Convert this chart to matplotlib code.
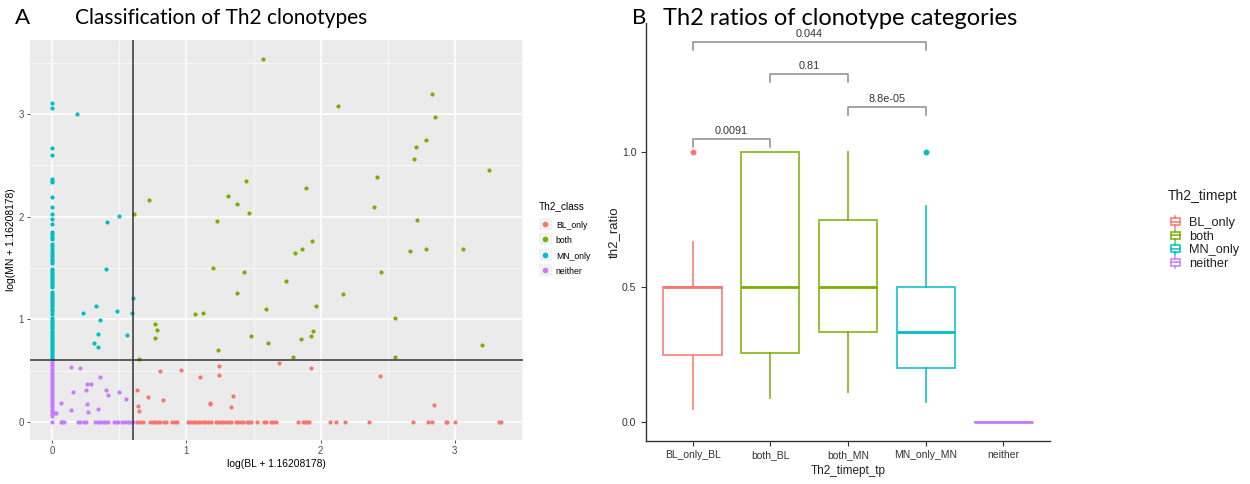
import matplotlib
matplotlib.use("Agg")
import matplotlib.pyplot as plt
from matplotlib.lines import Line2D
from matplotlib.patches import Rectangle
from matplotlib.legend_handler import HandlerBase

plt.rcParams["font.family"] = ["Liberation Sans", "DejaVu Sans"]

# ---- panel A data ----
bl_x = [0.632, 0.642, 0.649, 0.711, 0.803, 0.825, 0.959, 1.10, 1.172, 1.172, 1.244, 1.239, 1.348, 1.331,
        1.693, 1.93, 2.444, 2.845,
        0.632, 0.657, 0.679, 0.729, 0.749, 0.766, 0.786, 0.805, 0.830, 0.848, 0.895, 0.912, 0.929, 1.009,
        1.026, 1.046, 1.063, 1.083, 1.100, 1.120, 1.138, 1.158, 1.182, 1.219, 1.237, 1.257, 1.274, 1.294,
        1.314, 1.331, 1.368, 1.385, 1.405, 1.425, 1.448, 1.467, 1.485, 1.524, 1.579, 1.596, 1.628, 1.645,
        1.665, 1.834, 1.868, 1.881, 1.896, 1.911, 2.072, 2.117, 2.181, 2.364, 2.686, 2.801, 2.835, 2.932,
        2.944, 3.001, 3.329, 3.344]
bl_y = [0.312, 0.153, 0.101, 0.244, 0.495, 0.215, 0.501, 0.436, 0.185, 0.170, 0.543, 0.456, 0.251, 0.144,
        0.576, 0.524, 0.446, 0.163] + [0.0] * 60

both_x = [1.57, 2.13, 2.83, 2.857, 2.786, 2.709, 2.697, 3.254, 2.419, 1.89, 2.40, 2.72, 1.94, 1.864, 1.807,
          2.667, 2.786, 3.065, 0.607, 0.72, 1.23, 1.31, 1.38, 1.445, 1.47, 1.74, 2.454, 2.164, 1.963, 2.555,
          1.945, 1.928, 1.851, 3.204, 1.794, 2.558, 0.649, 0.763, 0.78, 0.766, 1.066, 1.125, 1.195, 1.427,
          1.378, 1.232, 1.482, 1.59, 1.608]
both_y = [3.54, 3.08, 3.20, 2.976, 2.745, 2.683, 2.563, 2.456, 2.384, 2.28, 2.09, 1.97, 1.76, 1.68, 1.643,
          1.665, 1.685, 1.68, 2.03, 2.16, 1.96, 2.20, 2.12, 2.345, 2.04, 1.373, 1.46, 1.246, 1.129, 1.009,
          0.888, 0.836, 0.804, 0.751, 0.634, 0.634, 0.609, 0.953, 0.895, 0.817, 1.048, 1.06, 1.5, 1.464,
          1.259, 0.70, 0.833, 1.10, 0.768]

mn_col = [3.11, 3.06, 2.67, 2.60, 2.37, 2.35, 2.34, 2.19, 2.09, 2.03, 1.975, 1.93, 1.85, 1.83, 1.80, 1.78,
          1.73, 1.71, 1.685, 1.66, 1.64, 1.62, 1.59, 1.57, 1.55, 1.49, 1.47, 1.45, 1.43, 1.41, 1.39, 1.37,
          1.35, 1.33, 1.31, 1.27, 1.25, 1.23, 1.21, 1.19, 1.17, 1.15, 1.13, 1.10, 1.08, 1.05, 1.01, 0.99,
          0.97, 0.95, 0.93, 0.91, 0.89, 0.87, 0.85, 0.83, 0.81, 0.79, 0.77, 0.75, 0.73, 0.71, 0.69, 0.67,
          0.65, 0.63, 0.61]
mn_x = [0.186, 0.41, 0.50, 0.23, 0.322, 0.357, 0.342, 0.307, 0.34, 0.401, 0.483, 0.558, 0.6, 0.595] + [0.0] * len(mn_col)
mn_y = [3.0, 1.95, 2.01, 1.058, 1.129, 0.99, 0.856, 0.768, 0.726, 1.487, 1.083, 0.843, 1.21, 1.058] + mn_col

nei_col = [0.58, 0.56, 0.54, 0.52, 0.50, 0.48, 0.46, 0.44, 0.42, 0.40, 0.38, 0.36, 0.34, 0.32, 0.30, 0.28,
           0.26, 0.24, 0.22, 0.20, 0.18, 0.16, 0.14, 0.12, 0.10, 0.08, 0.06]
nei_row = [0.0, 0.067, 0.074, 0.089, 0.193, 0.208, 0.233, 0.248, 0.320, 0.340, 0.357, 0.377, 0.394, 0.414,
           0.456, 0.476, 0.493, 0.518, 0.543, 0.563, 0.582, 0.6]
nei_x = [0.067, 0.02, 0.025, 0.139, 0.208, 0.154, 0.139, 0.258, 0.29, 0.25, 0.258, 0.263, 0.355, 0.34,
         0.399, 0.414, 0.498, 0.548] + [0.0] * len(nei_col) + nei_row
nei_y = [0.179, 0.082, 0.088, 0.537, 0.521, 0.287, 0.111, 0.365, 0.371, 0.312, 0.176, 0.092, 0.433, 0.124,
         0.306, 0.263, 0.287, 0.221] + nei_col + [0.0] * len(nei_row)

# ---- panel B data ----
box_names = ["BL_only_BL", "both_BL", "both_MN", "MN_only_MN", "neither"]
box_group = ["BL_only", "both", "both", "MN_only", "neither"]
q1 = [0.25, 0.257, 0.333, 0.2, 0.0]
med = [0.5, 0.5, 0.5, 0.333, 0.0]
q3 = [0.5, 1.0, 0.75, 0.5, 0.0]
wlo = [0.05, 0.09, 0.111, 0.075, 0.0]
whi = [0.667, 1.0, 1.0, 0.8, 0.0]
fliers = [[1.0], [], [], [1.0], []]

sig_pairs = [(1, 2), (2, 3), (3, 4), (1, 4)]
sig_y = [1.05, 1.29, 1.167, 1.408]
sig_lab = ["0.0091", "0.81", "8.8e-05", "0.044"]

cols = {"BL_only": "#F8766D", "both": "#7CAE00", "MN_only": "#00BFC4", "neither": "#C77CFF"}

fig = plt.figure(figsize=(12.5, 4.84), dpi=100)

# ---------------- A ----------------
ax1 = fig.add_axes([0.024, 0.0909, 0.3944, 0.826])
ax1.set_facecolor("#EBEBEB")
for s in ax1.spines.values():
    s.set_visible(False)
ax1.set_xlim(-0.167, 3.51)
ax1.set_ylim(-0.177, 3.72)
ax1.set_xticks([0, 1, 2, 3])
ax1.set_yticks([0, 1, 2, 3])
ax1.set_xticks([0.5, 1.5, 2.5, 3.5], minor=True)
ax1.set_yticks([0.5, 1.5, 2.5, 3.5], minor=True)
ax1.grid(which="major", color="white", lw=1.1)
ax1.grid(which="minor", color="white", lw=0.5)
ax1.set_axisbelow(True)
ax1.tick_params(which="major", length=2.5, width=0.6, color="#333333", labelcolor="#4D4D4D", labelsize=7, pad=2)
ax1.tick_params(which="minor", length=0)

for nm, xs, ys in [("BL_only", bl_x, bl_y), ("both", both_x, both_y),
                   ("MN_only", mn_x, mn_y), ("neither", nei_x, nei_y)]:
    ax1.scatter(xs, ys, s=9, color=cols[nm], lw=0, zorder=3)

ax1.axvline(0.6, color="#333333", lw=1.1, zorder=4)
ax1.axhline(0.6, color="#333333", lw=1.1, zorder=4)
ax1.set_xlabel("log(BL + 1.16208178)", fontsize=7.4, labelpad=2)
ax1.set_ylabel("log(MN + 1.16208178)", fontsize=7.4, labelpad=2)


class DotKey(HandlerBase):
    def create_artists(self, legend, orig, xd, yd, w, h, fs, trans):
        sz = h * 1.7
        cx, cy = xd + w / 2, yd + h / 2
        bg = Rectangle((cx - sz / 2, cy - sz / 2), sz, sz, fc="#F2F2F2", ec="none", transform=trans)
        dot = Line2D([cx], [cy], ls="", marker="o", ms=3, color=orig.get_color(), transform=trans)
        return [bg, dot]


h1 = [Line2D([], [], ls="", marker="o", ms=3, color=cols[k]) for k in cols]
fig.text(539 / 1250, 1 - 206 / 484, "Th2_class", fontsize=7.2, va="center", ha="left")
fig.legend(h1, list(cols), loc="upper left", bbox_to_anchor=(0.4295, 0.5522), frameon=False,
           fontsize=6.2, handlelength=1.0, handleheight=0.9,
           handletextpad=0.7, labelspacing=0.75, borderpad=0, handler_map={Line2D: DotKey()})

# ---------------- B ----------------
ax2 = fig.add_axes([0.5168, 0.0895, 0.3232, 0.863])
for s in ["top", "right"]:
    ax2.spines[s].set_visible(False)
for s in ["left", "bottom"]:
    ax2.spines[s].set_color("#333333")
    ax2.spines[s].set_linewidth(1.0)
ax2.set_xlim(0.4, 5.6)
ax2.set_ylim(-0.069, 1.48)

for i in range(len(box_names)):
    c = cols[box_group[i]]
    st = dict(med=med[i], q1=q1[i], q3=q3[i], whislo=wlo[i], whishi=whi[i], fliers=fliers[i])
    ax2.bxp([st], positions=[i + 1], widths=0.75, showcaps=False, patch_artist=True,
            boxprops=dict(facecolor="white", edgecolor=c, lw=1.3, alpha=0.85),
            whiskerprops=dict(color=c, lw=1.3, alpha=0.85),
            medianprops=dict(color=c, lw=2.0),
            flierprops=dict(marker="o", ms=3.2, mfc=c, mec=c))

ax2.set_xticks(range(1, len(box_names) + 1))
ax2.set_xticklabels(box_names)
ax2.set_yticks([0, 0.5, 1.0])
ax2.set_yticklabels(["0.0", "0.5", "1.0"])
ax2.tick_params(length=3.5, width=0.8, color="#333333", labelcolor="#333333", labelsize=7.5)
ax2.set_xlabel("Th2_timept_tp", fontsize=8.5, color="#222222", labelpad=3)
ax2.set_ylabel("th2_ratio", fontsize=9.5, color="#222222", labelpad=1)

for (a, b), yy, lab in zip(sig_pairs, sig_y, sig_lab):
    ax2.plot([a, a, b, b], [yy - 0.03, yy, yy, yy - 0.03], color="#8C8C8C", lw=1.1)
    ax2.text((a + b) / 2, yy + 0.012, lab, ha="center", va="bottom", fontsize=7.8, color="#333333")


class BoxIcon(HandlerBase):
    def create_artists(self, legend, orig, xd, yd, w, h, fs, trans):
        c = orig.get_edgecolor()
        bw = w * 0.7
        x0 = xd + (w - bw) / 2
        r = Rectangle((x0, yd + h * 0.1), bw, h * 0.8, fc="white", ec=c, lw=1.1, transform=trans)
        m = Line2D([x0, x0 + bw], [yd + h * 0.5] * 2, color=c, lw=1.1, transform=trans)
        t = Line2D([xd + w / 2] * 2, [yd + h * 0.9, yd + h * 1.15], color=c, lw=1.1, transform=trans)
        b = Line2D([xd + w / 2] * 2, [yd - h * 0.15, yd + h * 0.1], color=c, lw=1.1, transform=trans)
        return [r, m, t, b]


h2 = [Rectangle((0, 0), 1, 1, fc="white", ec=cols[k]) for k in cols]
fig.text(1168 / 1250, 1 - 196 / 484, "Th2_timept", fontsize=10, va="center", ha="left", color="#222222")
leg2 = fig.legend(h2, list(cols), loc="upper left", bbox_to_anchor=(0.930, 0.5642), frameon=False,
                  fontsize=9.2, handlelength=1.0,
                  handletextpad=0.6, labelspacing=0.12, borderpad=0,
                  handler_map={Rectangle: BoxIcon()})
for t in leg2.get_texts():
    t.set_color("#222222")

# ---- titles ----
fig.text(0.012, 0.962, "A", fontsize=16, va="center", family="Lato")
fig.text(0.177, 0.962, "Classification of Th2 clonotypes", fontsize=15, ha="center", va="center", family="Lato")
fig.text(0.5056, 0.962, "B", fontsize=16, va="center", family="Lato")
fig.text(0.672, 0.962, "Th2 ratios of clonotype categories", fontsize=17, ha="center", va="center", family="Lato")

fig.savefig("out.png", dpi=100, facecolor="white")
